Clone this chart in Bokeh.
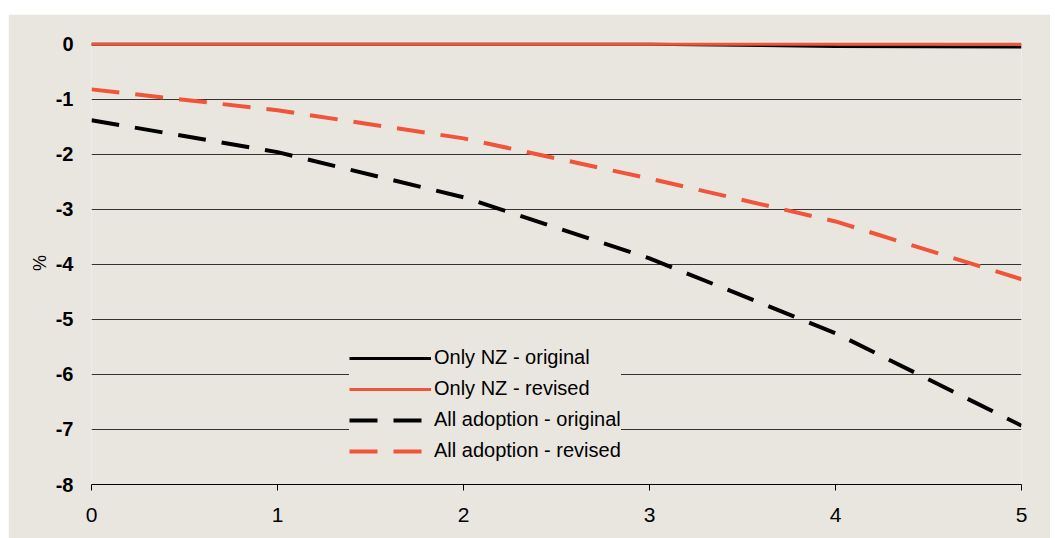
from bokeh.plotting import figure
from bokeh.models import Legend, LegendItem, FixedTicker, Spacer
from bokeh.layouts import column, row
from bokeh.embed import file_html
from bokeh.resources import INLINE

years = [0, 1, 2, 3, 4, 5]
only_nz_original = [0, 0, 0, 0, -0.04, -0.05]
only_nz_revised = [0, 0, 0, 0, 0, 0]
all_adoption_original = [-1.38, -1.96, -2.78, -3.89, -5.25, -6.93]
all_adoption_revised = [-0.82, -1.2, -1.71, -2.44, -3.22, -4.27]
y_ticks = [0, -1, -2, -3, -4, -5, -6, -7, -8]
x_ticks = [0, 1, 2, 3, 4, 5]

BG = "#E9E6E0"
RED = "#F0553A"
FONT = "Liberation Sans"

p = figure(width=1042, height=524, output_backend="svg", toolbar_location=None,
           x_range=(0, 5), y_range=(-8, 0.05),
           min_border_left=83, min_border_right=29, min_border_top=27, min_border_bottom=54)
p.background_fill_color = BG
p.border_fill_color = BG
p.outline_line_color = None

p.xgrid.grid_line_color = None
p.ygrid.grid_line_color = "#333333"
p.ygrid.grid_line_width = 1
p.ygrid.ticker = FixedTicker(ticks=y_ticks)

p.yaxis.ticker = FixedTicker(ticks=y_ticks)
p.yaxis.major_label_overrides = {t: str(t) for t in y_ticks}
p.yaxis.axis_line_color = None
p.yaxis.major_tick_line_color = None
p.yaxis.minor_tick_line_color = None
p.yaxis.major_label_text_font = FONT
p.yaxis.major_label_text_font_style = "bold"
p.yaxis.major_label_text_font_size = "20px"
p.yaxis.major_label_text_color = "black"
p.yaxis.major_label_standoff = 12
p.yaxis.axis_label = "%"
p.yaxis.axis_label_text_font = FONT
p.yaxis.axis_label_text_font_style = "normal"
p.yaxis.axis_label_text_font_size = "18px"
p.yaxis.axis_label_text_color = "black"
p.yaxis.axis_label_standoff = 3

p.xaxis.ticker = FixedTicker(ticks=x_ticks)
p.xaxis.axis_line_color = "black"
p.xaxis.axis_line_width = 1
p.xaxis.major_tick_line_color = "black"
p.xaxis.major_tick_out = 6
p.xaxis.major_tick_in = 0
p.xaxis.minor_tick_line_color = None
p.xaxis.major_label_text_font = FONT
p.xaxis.major_label_text_font_size = "21px"
p.xaxis.major_label_text_color = "black"
p.xaxis.major_label_standoff = 17

r1 = p.line(years, only_nz_original, line_color="black", line_width=3)
r2 = p.line(years, only_nz_revised, line_color=RED, line_width=3)
r3 = p.line(years, all_adoption_original, line_color="black", line_width=4, line_dash="28 16")
r4 = p.line(years, all_adoption_revised, line_color=RED, line_width=4, line_dash="28 16")

legend = Legend(items=[
    LegendItem(label="Only NZ - original", renderers=[r1]),
    LegendItem(label="Only NZ - revised", renderers=[r2]),
    LegendItem(label="All adoption - original", renderers=[r3]),
    LegendItem(label="All adoption - revised", renderers=[r4]),
], location=(258, 22))
legend.background_fill_color = BG
legend.background_fill_alpha = 1
legend.border_line_color = None
legend.label_text_font = FONT
legend.label_text_font_size = "20px"
legend.label_text_color = "black"
legend.glyph_width = 82
legend.glyph_height = 22
legend.label_height = 22
legend.label_standoff = 3
legend.spacing = 8
legend.padding = 25
legend.margin = 10
p.add_layout(legend, "center")

layout = row(Spacer(width=8), column(Spacer(height=14), p, spacing=0), spacing=0)
open("out.html", "w").write(file_html(layout, INLINE))
